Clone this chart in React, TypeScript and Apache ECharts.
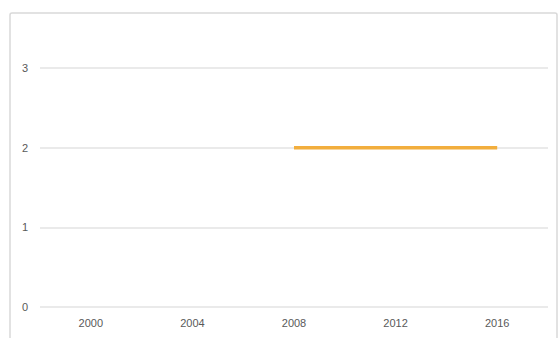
import React, { useEffect, useRef } from "react";
import * as echarts from "echarts";

const years = [2008, 2016];
const values = [2, 2];
const xLabelYears = [2000, 2004, 2008, 2012, 2016];
const yTicks = [0, 1, 2, 3];

export default function App() {
  const ref = useRef<HTMLDivElement>(null);
  useEffect(() => {
    if (!ref.current) return;
    const chart = echarts.init(ref.current, null, { renderer: "svg" });
    chart.setOption({
      animation: false,
      backgroundColor: "#ffffff",
      graphic: [
        {
          type: "rect",
          shape: { x: 10, y: 13, width: 547, height: 340, r: 2 },
          style: { fill: "none", stroke: "#d9d9d9", lineWidth: 1.5 },
          silent: true,
        },
      ],
      grid: { left: 40, right: 11, top: 68, bottom: 31, containLabel: false },
      xAxis: {
        type: "value",
        min: 1998,
        max: 2018,
        interval: 2,
        axisLine: { show: false },
        axisTick: { show: false },
        splitLine: { show: false },
        axisLabel: {
          color: "#595959",
          fontSize: 11,
          fontFamily: "Liberation Sans",
          margin: 10,
          showMinLabel: false,
          showMaxLabel: false,
          formatter: (v: number) => (xLabelYears.includes(v) ? String(v) : ""),
        },
      },
      yAxis: {
        type: "value",
        min: yTicks[0],
        max: yTicks[yTicks.length - 1],
        interval: 1,
        axisLine: { show: false },
        axisTick: { show: false },
        splitLine: { lineStyle: { color: "#e3e3e3", width: 1.5 } },
        axisLabel: {
          color: "#595959",
          fontSize: 11,
          fontFamily: "Liberation Sans",
          margin: 12,
        },
      },
      series: [
        {
          type: "line",
          data: years.map((y, i) => [y, values[i]]),
          showSymbol: false,
          lineStyle: { color: "#F2AE3D", width: 3.5 },
          itemStyle: { color: "#F2AE3D" },
        },
      ],
    });
    return () => chart.dispose();
  }, []);
  return (
    <div
      ref={ref}
      style={{ position: "fixed", left: 0, top: 0, width: 559, height: 338 }}
    />
  );
}
